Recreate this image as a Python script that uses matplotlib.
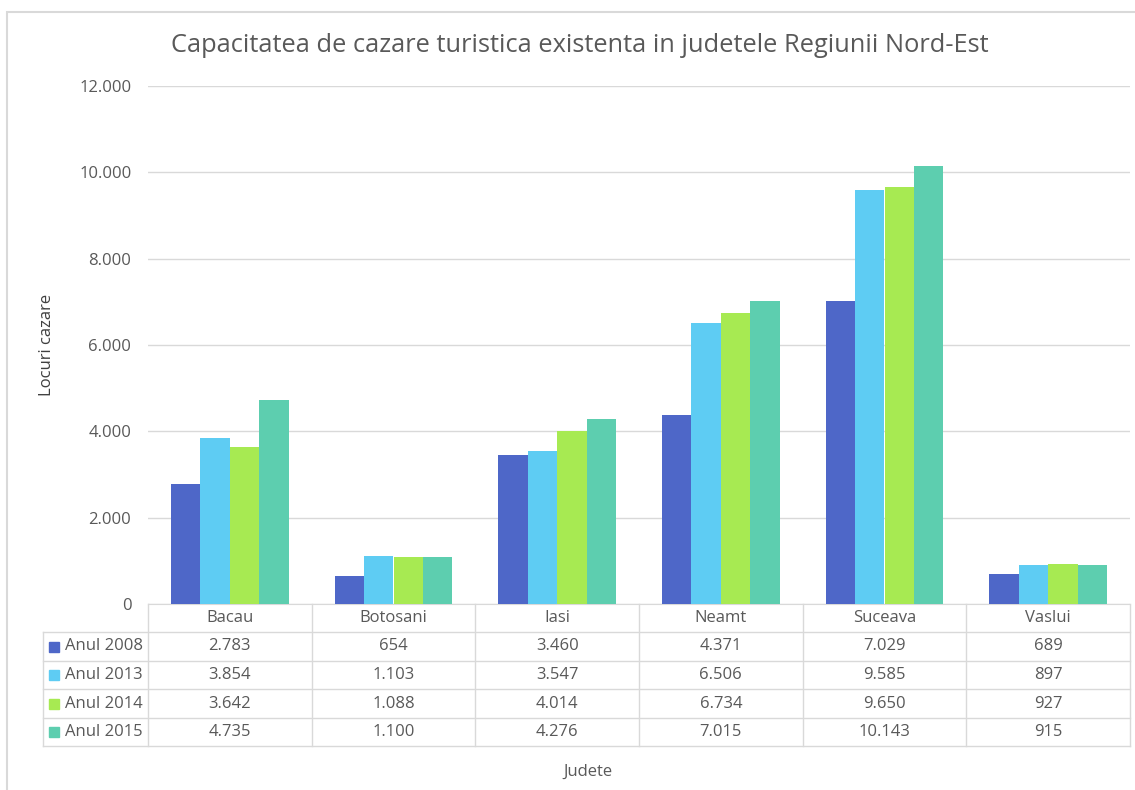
import matplotlib.pyplot as plt
import matplotlib.transforms as mtransforms
from matplotlib.patches import Rectangle
import numpy as np

plt.rcParams['font.family'] = ['Open Sans', 'DejaVu Sans']

judete = ['Bacau', 'Botosani', 'Iasi', 'Neamt', 'Suceava', 'Vaslui']
serii = ['Anul 2008', 'Anul 2013', 'Anul 2014', 'Anul 2015']
anul_2008 = [2783, 654, 3460, 4371, 7029, 689]
anul_2013 = [3854, 1103, 3547, 6506, 9585, 897]
anul_2014 = [3642, 1088, 4014, 6734, 9650, 927]
anul_2015 = [4735, 1100, 4276, 7015, 10143, 915]
culori = ['#4E67C8', '#5ECCF3', '#A7EA52', '#5DCEAF']

W, H = 1135, 790
grey_txt = '#595959'
grey_line = '#D9D9D9'
fs = 12


def fy(py):
    return 1 - py / H


def fx(px):
    return px / W


def fmt(v):
    return f"{v:,}".replace(',', '.')


valori = [anul_2008, anul_2013, anul_2014, anul_2015]

fig = plt.figure(figsize=(W / 100, H / 100), dpi=100)
ax = fig.add_axes([fx(148), fy(604), fx(1130) - fx(148), fy(86) - fy(604)])

x = np.arange(len(judete))
bw = 0.18
for i, (nume, v) in enumerate(zip(serii, valori)):
    ax.bar(x + (i - 1.5) * bw, v, bw, color=culori[i], label=nume, zorder=3)

ax.set_xlim(-0.5, len(judete) - 0.5)
ax.set_ylim(0, 12000)
ax.set_yticks(np.arange(0, 12001, 2000))
ax.set_yticklabels([fmt(t) for t in range(0, 12001, 2000)])
ax.set_xticks([])
ax.tick_params(axis='y', length=0, pad=12, labelsize=fs, labelcolor=grey_txt)
ax.grid(axis='y', color=grey_line, linewidth=1, zorder=0)
for s in ['top', 'right', 'left']:
    ax.spines[s].set_visible(False)
ax.spines['bottom'].set_color(grey_line)

# tabel de date sub axa
tr = mtransforms.blended_transform_factory(ax.transData, fig.transFigure)
row_y = [604, 632, 661, 689, 718, 746]
for k in range(len(judete) + 1):
    ax.plot([k - 0.5, k - 0.5], [fy(604), fy(746)], transform=tr,
            color=grey_line, lw=1, clip_on=False)
for yy in row_y[1:]:
    fig.add_artist(plt.Line2D([fx(43), fx(1130)], [fy(yy), fy(yy)],
                              color=grey_line, lw=1))
fig.add_artist(plt.Line2D([fx(43), fx(43)], [fy(632), fy(746)],
                          color=grey_line, lw=1))

for j, nume in enumerate(judete):
    ax.text(j, fy((604 + 632) / 2), nume, transform=tr, ha='center',
            va='center', fontsize=fs, color=grey_txt)
for i, v in enumerate(valori):
    yc = fy((row_y[i + 1] + row_y[i + 2]) / 2)
    for j, val in enumerate(v):
        ax.text(j, yc, fmt(val), transform=tr, ha='center', va='center',
                fontsize=fs, color=grey_txt)
    fig.add_artist(Rectangle((fx(49), yc - 5 / H), fx(10), 10 / H,
                             color=culori[i], transform=fig.transFigure))
    fig.text(fx(65), yc, serii[i], ha='left', va='center', fontsize=fs,
             color=grey_txt)

fig.text(fx(580), fy(46), 'Capacitatea de cazare turistica existenta in judetele Regiunii Nord-Est',
         ha='center', va='center', fontsize=18.3, color=grey_txt)
fig.text(fx(47), fy(345), 'Locuri cazare', rotation=90, ha='center',
         va='center', fontsize=fs, color='#404040')
fig.text(fx(588), fy(772), 'Judete', ha='center', va='center', fontsize=fs,
         color=grey_txt)

# chenar exterior
fig.add_artist(Rectangle((fx(7), fy(1200)), 1.2, fy(12) - fy(1200), fill=False,
                         edgecolor=grey_line, lw=1.5, transform=fig.transFigure))

plt.savefig('out.png', dpi=100)
